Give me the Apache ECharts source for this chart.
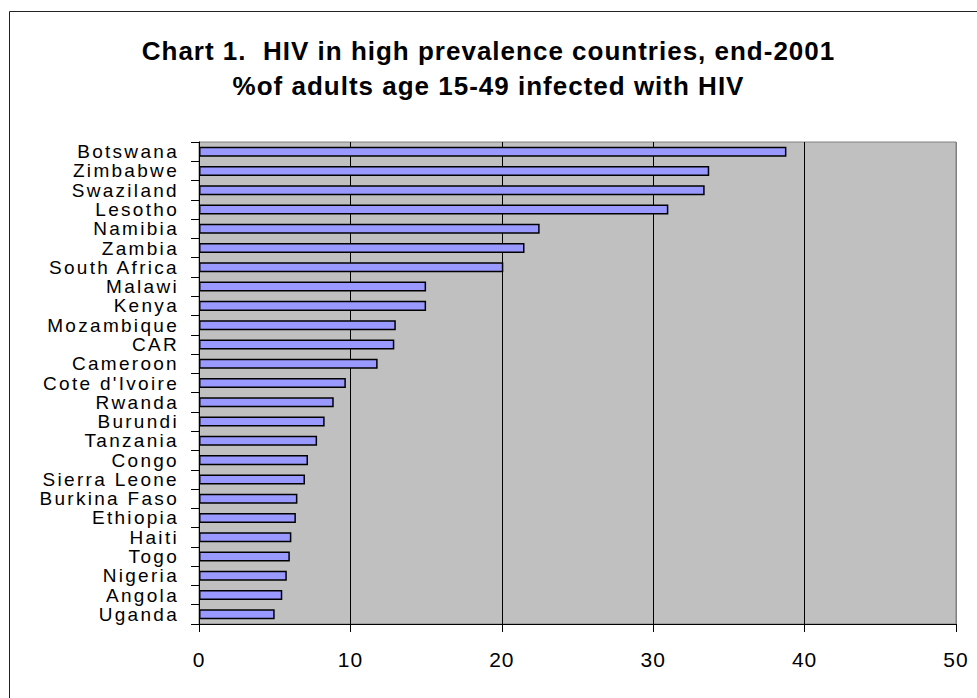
<!DOCTYPE html>
<html>
<head>
<meta charset="utf-8">
<script src="https://cdn.jsdelivr.net/npm/echarts@6/dist/echarts.min.js"></script>
<style>
html,body{margin:0;padding:0;background:#fff}
#c{width:977px;height:698px}
#c svg text{letter-spacing:1px}
#c svg text[text-anchor="end"]{letter-spacing:2.3px}
</style>
</head>
<body>
<div id="c"></div>
<script>
var titleLine1 = 'Chart 1.  HIV in high prevalence countries, end-2001';
var titleLine2 = '%of adults age 15-49 infected with HIV';
var countries = ['Botswana','Zimbabwe','Swaziland','Lesotho','Namibia','Zambia','South Africa','Malawi','Kenya','Mozambique','CAR','Cameroon',"Cote d'Ivoire",'Rwanda','Burundi','Tanzania','Congo','Sierra Leone','Burkina Faso','Ethiopia','Haiti','Togo','Nigeria','Angola','Uganda'];
var prevalence = [38.8,33.7,33.4,31.0,22.5,21.5,20.1,15.0,15.0,13.0,12.9,11.8,9.7,8.9,8.3,7.8,7.2,7.0,6.5,6.4,6.1,6.0,5.8,5.5,5.0];
var xTicks = [0,10,20,30,40,50];

var chart = echarts.init(document.getElementById('c'), null, {renderer:'svg'});
var font = 'Arial, "Liberation Sans", sans-serif';
chart.setOption({
  animation: false,
  backgroundColor: '#ffffff',
  graphic: [{
    type: 'rect', silent: true,
    shape: {x: 9.5, y: 11.5, width: 1100, height: 1100},
    style: {fill: 'none', stroke: '#222', lineWidth: 1}
  }],
  title: [
    {text: titleLine1, left: 'center', top: 33, textStyle: {fontFamily: font, fontSize: 26, fontWeight: 'bold', color: '#000'}},
    {text: titleLine2, left: 'center', top: 68, textStyle: {fontFamily: font, fontSize: 26, fontWeight: 'bold', color: '#000'}}
  ],
  grid: {left: 199, right: 21, top: 142, bottom: 74, show: true, backgroundColor: '#C0C0C0', borderColor: '#808080', borderWidth: 1, containLabel: false},
  xAxis: {
    type: 'value', min: xTicks[0], max: xTicks[xTicks.length-1], interval: 10,
    axisLine: {show: true, lineStyle: {color: '#000', width: 1}},
    axisTick: {show: true, length: 8, lineStyle: {color: '#000'}},
    axisLabel: {margin: 25, color: '#000', fontFamily: font, fontSize: 21},
    splitLine: {show: true, lineStyle: {color: ['#000','#000','#000','#000','#000','#808080'], width: 1}}
  },
  yAxis: {
    type: 'category', data: countries, inverse: true,
    axisLine: {show: true, lineStyle: {color: '#000', width: 1}},
    axisTick: {show: true, length: 8, lineStyle: {color: '#000'}},
    axisLabel: {margin: 20, color: '#000', fontFamily: font, fontSize: 19, lineHeight: 18, interval: 0},
    splitLine: {show: false}
  },
  series: [{
    type: 'bar', data: prevalence, barWidth: '52%',
    itemStyle: {color: '#9999FF', borderColor: '#000', borderWidth: 1.5}
  }]
});
</script>
</body>
</html>
